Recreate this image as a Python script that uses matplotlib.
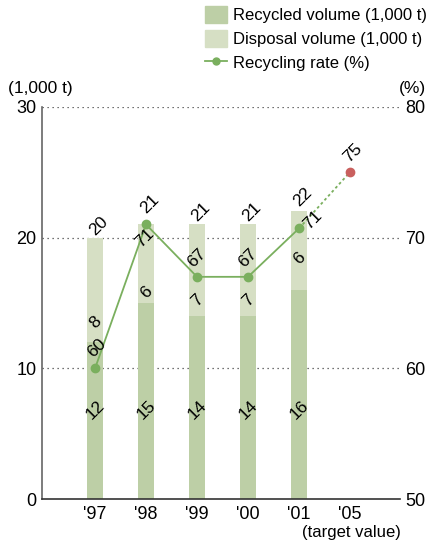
import matplotlib
matplotlib.use("Agg")
import matplotlib.pyplot as plt
from matplotlib.patches import Patch
from matplotlib.lines import Line2D

plt.rcParams['font.family'] = ['Liberation Sans', 'DejaVu Sans']

years = ["'97", "'98", "'99", "'00", "'01", "'05"]
recycled = [12, 15, 14, 14, 16]
disposal = [8, 6, 7, 7, 6]
totals = [20, 21, 21, 21, 22]
rates = [60, 71, 67, 67, 70.7, 75]
rate_labels = ["60", "71", "67", "67", "71", "75"]

dark = '#bdcfa6'
light = '#d6dfc4'
line_c = '#7aaf5e'
red_c = '#c9605e'

fig = plt.figure(figsize=(4.31, 5.44), dpi=100)
ax = fig.add_axes([42/431, 44.7/544, 358/431, 392.6/544])
ax2 = ax.twinx()

x = list(range(len(years)))
xb = x[:len(recycled)]
w = 0.33

for yv in [10, 20, 30]:
    ax.axhline(yv, color='#444444', lw=0.9, ls=(0, (1, 3)), zorder=0)

ax.bar(xb, recycled, w, color=dark, zorder=2)
ax.bar(xb, disposal, w, bottom=recycled, color=light, zorder=2)

ax.set_xlim(-1.04, 5.98)
ax.set_ylim(0, 30)
ax2.set_ylim(50, 80)
ax.set_yticks([0, 10, 20, 30])
ax2.set_yticks([50, 60, 70, 80])
ax.set_xticks(x)
ax.set_xticklabels(years)
ax.tick_params(length=0, labelsize=13, pad=4)
ax.tick_params(axis='x', pad=5)
ax2.tick_params(length=0, labelsize=13, pad=4)
for a in (ax, ax2):
    a.spines['top'].set_visible(False)
    a.spines['right'].set_visible(False)
ax2.spines['left'].set_visible(False)
ax2.spines['bottom'].set_visible(False)
ax.spines['left'].set_color('#666666')
ax.spines['left'].set_linewidth(1.2)
ax.spines['bottom'].set_color('#333333')
ax.spines['bottom'].set_linewidth(1.2)
ax.set_zorder(1)
ax2.set_zorder(2)
ax.patch.set_visible(False)

# rate line
ax2.plot(x[:5], rates[:5], color=line_c, lw=1.3, marker='o', ms=6, zorder=3)
ax2.plot(x[4:], rates[4:], color=line_c, lw=1.3, ls=(0, (1.5, 1.5)), zorder=3)
ax2.plot([x[5]], [rates[5]], 'o', color=red_c, ms=6, zorder=4)

fs = 12.5
# value labels
for i in xb:
    ax.text(i, 6.8, str(recycled[i]), rotation=45, ha='center', va='center', fontsize=fs, zorder=5)
disp_off = [1.5, 0.8, 1.2, 1.2, 2.4]
for i in xb:
    ax.text(i, recycled[i] + disp_off[i], str(disposal[i]), rotation=45, ha='center', va='center', fontsize=fs, zorder=5)
tot_off = [(4, 12), (4, 21), (4, 13), (4, 13), (4, 14)]
for i in xb:
    ax.annotate(str(totals[i]), (i, totals[i]), xytext=tot_off[i], textcoords='offset pixels',
                rotation=45, ha='center', va='center', fontsize=fs, zorder=5)
rate_off = [(2, 20), (-1, -13), (0, 19), (0, 19), (14, 8), (3, 19)]
for i in x:
    ax2.annotate(rate_labels[i], (i, rates[i]), xytext=rate_off[i], textcoords='offset pixels',
                 rotation=45, ha='center', va='center', fontsize=fs, zorder=5)

fig.text(8/431, 1 - 88/544, '(1,000 t)', fontsize=12.5, ha='left', va='center')
fig.text(426/431, 1 - 88/544, '(%)', fontsize=12.5, ha='right', va='center')
fig.text(351/431, 1 - 532/544, '(target value)', fontsize=12, ha='center', va='center')

handles = [Patch(color=dark), Patch(color=light),
           Line2D([0], [0], color=line_c, marker='o', ms=5, lw=1.3)]
labels = ['Recycled volume (1,000 t)', 'Disposal volume (1,000 t)', 'Recycling rate (%)']
fig.legend(handles, labels, loc='upper right', bbox_to_anchor=(1.0, 0.996), frameon=False,
           fontsize=12, handlelength=1.3, handleheight=1.15, handletextpad=0.35,
           labelspacing=0.42, borderaxespad=0.0, borderpad=0.25)

fig.savefig('out.png', dpi=100)
